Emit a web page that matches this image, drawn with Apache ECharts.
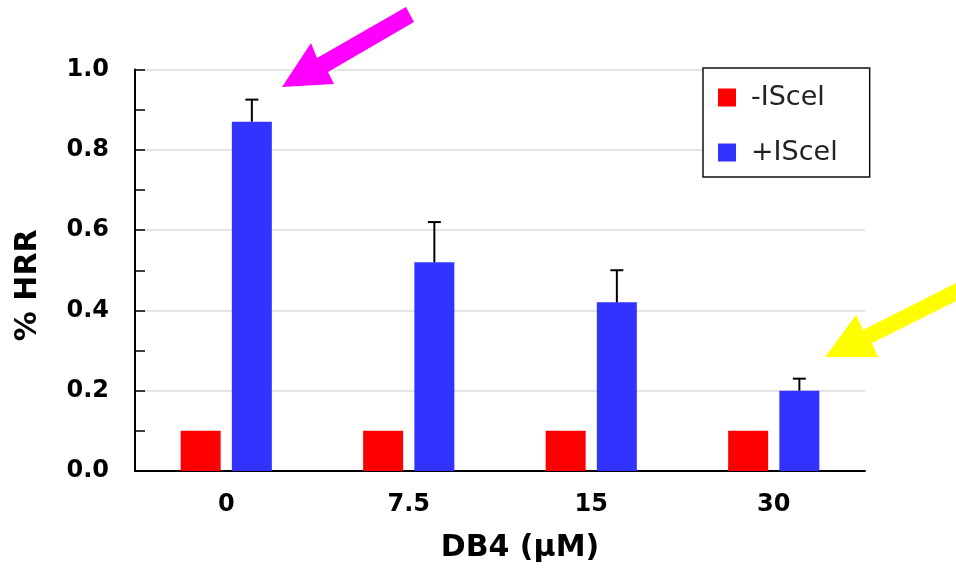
<!DOCTYPE html>
<html>
<head>
<meta charset="utf-8">
<script src="https://cdn.jsdelivr.net/npm/echarts@6/dist/echarts.min.js"></script>
<style>
html,body{margin:0;padding:0;background:#fff;}
#chart{width:956px;height:577px;}
</style>
</head>
<body>
<div id="chart"></div>
<script>
var categories = ['0', '7.5', '15', '30'];
var minusIScel = [0.10, 0.10, 0.10, 0.10];
var plusIScel = [0.87, 0.52, 0.42, 0.20];
var plusIScelErrorTop = [0.925, 0.62, 0.50, 0.23];
var yTicks = [0, 0.2, 0.4, 0.6, 0.8, 1.0];

var chart = echarts.init(document.getElementById('chart'));
var BAR_W = 40, GAP_PCT = 28;
var errData = plusIScel.map(function (v, i) { return [i, v, plusIScelErrorTop[i]]; });

chart.setOption({
  backgroundColor: '#fff',
  animation: false,
  grid: { left: 135, right: 91, top: 69.5, bottom: 106 },
  legend: {
    data: ['-IScel', '+IScel'],
    orient: 'vertical',
    left: 703, top: 68,
    padding: [16, 32, 11, 15],
    itemGap: 28,
    itemWidth: 18, itemHeight: 18,
    icon: 'rect',
    borderColor: '#111', borderWidth: 1.5,
    backgroundColor: '#fff',
    textStyle: { fontFamily: 'DejaVu Sans', fontSize: 27, color: '#222', lineHeight: 27, padding: [0,0,0,10] }
  },
  xAxis: {
    type: 'category',
    data: categories,
    name: 'DB4 (µM)',
    nameLocation: 'middle',
    nameGap: 62,
    nameTextStyle: { fontFamily: 'DejaVu Sans', fontWeight: 'bold', fontSize: 30, color: '#000', padding: [0, 0, 0, 40] },
    axisLine: { lineStyle: { color: '#000', width: 2 } },
    axisTick: { show: false },
    axisLabel: { fontFamily: 'DejaVu Sans', fontWeight: 'bold', fontSize: 24, color: '#000', margin: 22 }
  },
  yAxis: {
    type: 'value',
    min: 0, max: 1, interval: 0.2,
    name: '% HRR',
    nameLocation: 'middle',
    nameGap: 92,
    nameTextStyle: { fontFamily: 'DejaVu Sans', fontWeight: 'bold', fontSize: 30, color: '#000', padding: [0, 30, 0, 0] },
    axisLine: { show: true, lineStyle: { color: '#000', width: 2 } },
    axisTick: { show: true, inside: true, length: 10, lineStyle: { color: '#000', width: 1.5 } },
    minorTick: { show: true, splitNumber: 2, length: 10, lineStyle: { color: '#000', width: 1.5 } },
    splitLine: { show: true, lineStyle: { color: '#dcdcdc', width: 1.5 } },
    axisLabel: {
      fontFamily: 'DejaVu Sans', fontWeight: 'bold', fontSize: 24, color: '#000', margin: 26,
      formatter: function (v) { return v.toFixed(1); }
    }
  },
  series: [
    { name: '-IScel', type: 'bar', data: minusIScel, barWidth: BAR_W, barGap: GAP_PCT + '%', itemStyle: { color: '#ff0000' } },
    { name: '+IScel', type: 'bar', data: plusIScel, barWidth: BAR_W, barGap: GAP_PCT + '%', itemStyle: { color: '#3333ff' } },
    {
      name: 'err', type: 'custom', data: errData, z: 5,
      renderItem: function (params, api) {
        var i = api.value(0);
        var low = api.coord([i, api.value(1)]);
        var high = api.coord([i, api.value(2)]);
        var off = (BAR_W + BAR_W * GAP_PCT / 100) / 2;
        var x = low[0] + off;
        var cap = 6.5;
        return {
          type: 'group',
          children: [
            { type: 'line', shape: { x1: x, y1: low[1], x2: x, y2: high[1] }, style: { stroke: '#000', lineWidth: 2 } },
            { type: 'line', shape: { x1: x - cap, y1: high[1], x2: x + cap, y2: high[1] }, style: { stroke: '#000', lineWidth: 2 } }
          ]
        };
      }
    }
  ],
  graphic: [
    { type: 'polygon', z: 100, shape: { points: [[282,87],[311,43],[317,58],[406,7],[414,22],[328,72],[334,84]] }, style: { fill: '#ff00ff' } },
    { type: 'polygon', z: 100, shape: { points: [[825,357],[856,315],[863,330],[960,281],[960,299],[872,343],[878,357]] }, style: { fill: '#ffff00' } }
  ]
});
</script>
</body>
</html>
